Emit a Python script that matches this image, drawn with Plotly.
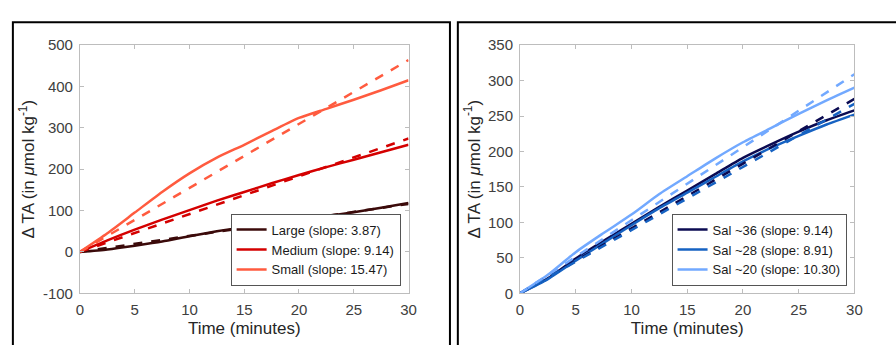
import plotly.graph_objects as go

W, H = 896, 345

# ---------------- data ----------------
t = [0, 2.5, 5, 7.5, 10, 12.5, 15, 17.5, 20, 22.5, 25, 27.5, 30]
t_fit = [0, 30]

# Left panel (particle size)
large = [0, 6, 15, 25, 38, 50, 60, 70, 79, 87, 96, 107, 118]
medium = [0, 28, 54, 78, 101, 124, 145, 166, 186, 205, 223, 241, 259]
small = [0, 45, 95, 145, 190, 228, 259, 292, 324, 346, 368, 391, 415]
left_names = ["Large (slope: 3.87)", "Medium (slope: 9.14)", "Small (slope: 15.47)"]
left_slopes = [3.87, 9.14, 15.47]

# Right panel (salinity)
sal36 = [0, 21, 49, 74, 98, 122, 145, 168, 191, 210, 228, 244, 258]
sal28 = [0, 20, 46, 71, 96, 120, 142, 164, 186, 205, 222, 238, 252]
sal20 = [0, 26, 58, 85, 111, 140, 165, 190, 213, 233, 253, 272, 290]
right_names = ["Sal ~36 (slope: 9.14)", "Sal ~28 (slope: 8.91)", "Sal ~20 (slope: 10.30)"]
right_slopes = [9.14, 8.91, 10.30]

x_ticks = [0, 5, 10, 15, 20, 25, 30]
left_yticks = [-100, 0, 100, 200, 300, 400, 500]
left_yticktext = ["-100", "0", "100", "200", "300", "400", "500"]
right_yticks = [0, 50, 100, 150, 200, 250, 300, 350]

left_colors = ["#3b0a0a", "#d40000", "#ff5b3f"]
right_colors = ["#0b0b52", "#1662c2", "#72a9ff"]

fig = go.Figure()

for ys, name, slope, col in zip([large, medium, small], left_names, left_slopes, left_colors):
    fig.add_trace(go.Scatter(x=t, y=ys, mode="lines", name=name,
                             line=dict(color=col, width=2.5, shape="spline", smoothing=0.6),
                             xaxis="x", yaxis="y", legend="legend"))
for ys, name, slope, col in zip([large, medium, small], left_names, left_slopes, left_colors):
    fig.add_trace(go.Scatter(x=t_fit, y=[slope * v for v in t_fit], mode="lines",
                             line=dict(color=col, width=2.5, dash="dash"),
                             showlegend=False, xaxis="x", yaxis="y"))

for ys, name, slope, col in zip([sal36, sal28, sal20], right_names, right_slopes, right_colors):
    fig.add_trace(go.Scatter(x=t, y=ys, mode="lines", name=name,
                             line=dict(color=col, width=2.5, shape="spline", smoothing=0.6),
                             xaxis="x2", yaxis="y2", legend="legend2"))
for ys, name, slope, col in zip([sal36, sal28, sal20], right_names, right_slopes, right_colors):
    fig.add_trace(go.Scatter(x=t_fit, y=[slope * v for v in t_fit], mode="lines",
                             line=dict(color=col, width=2.5, dash="dash"),
                             showlegend=False, xaxis="x2", yaxis="y2"))

FONT = "Liberation Sans, Arial, sans-serif"
tickfont = dict(family=FONT, size=15, color="#404040")
titlefont = dict(family=FONT, size=17, color="#262626")
ytitle = "Δ TA (in <i>μ</i>mol kg<sup>-1</sup>)"

axis_common = dict(showline=True, linecolor="#bdbdbd", linewidth=1, mirror="ticks",
                   ticks="inside", ticklen=4, tickcolor="#bdbdbd", showgrid=False,
                   zeroline=False, tickfont=tickfont, ticklabelstandoff=3)

y_lo, y_hi = 1 - 299 / H, 1 - 38 / H

legend_common = dict(xanchor="right", yanchor="bottom",
                     bgcolor="white", bordercolor="#555555", borderwidth=1,
                     font=dict(family=FONT, size=13, color="#1a1a1a"),
                     itemwidth=30, tracegroupgap=0)

fig.update_layout(
    width=W, height=H, margin=dict(l=0, r=0, t=0, b=0),
    paper_bgcolor="white", plot_bgcolor="white",
    showlegend=True,
    xaxis=dict(domain=[77 / W, 410 / W], range=[0, 30], tickvals=x_ticks, anchor="y",
               title=dict(text="Time (minutes)", font=titlefont, standoff=4), **axis_common),
    yaxis=dict(domain=[y_lo, y_hi], range=[-100, 500], tickvals=left_yticks,
               ticktext=left_yticktext, anchor="x",
               title=dict(text=ytitle, font=titlefont, standoff=3), **axis_common),
    xaxis2=dict(domain=[523 / W, 862 / W], range=[0, 30], tickvals=x_ticks, anchor="y2",
                title=dict(text="Time (minutes)", font=titlefont, standoff=4), **axis_common),
    yaxis2=dict(domain=[y_lo, y_hi], range=[0, 350], tickvals=right_yticks, anchor="x2",
                title=dict(text=ytitle, font=titlefont, standoff=3), **axis_common),
    legend=dict(x=402 / W, y=1 - 291 / H, **legend_common),
    legend2=dict(x=854 / W, y=1 - 291 / H, **legend_common),
    shapes=[
        dict(type="rect", xref="paper", yref="paper", x0=9 / W, x1=452 / W, y0=-0.2, y1=1 - 14 / H,
             line=dict(color="black", width=2), layer="below"),
        dict(type="rect", xref="paper", yref="paper", x0=460 / W, x1=1.2, y0=-0.2, y1=1 - 14 / H,
             line=dict(color="black", width=2), layer="below"),
    ],
)

fig.write_html("out.html")
